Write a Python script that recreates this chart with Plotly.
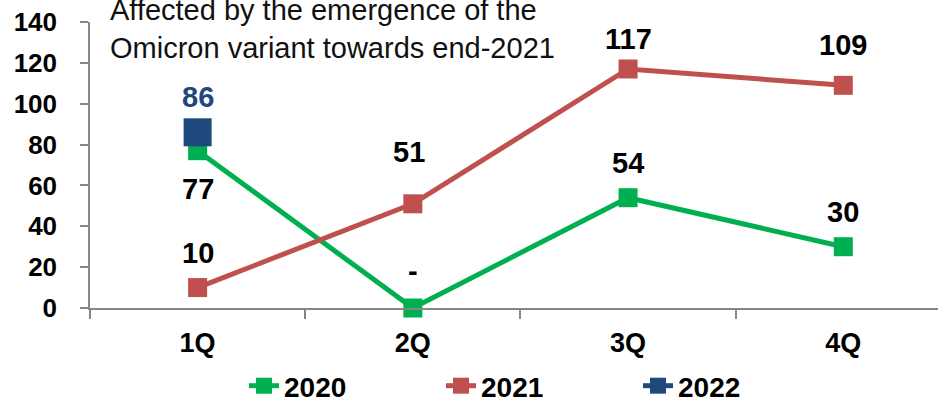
import plotly.graph_objects as go

quarters = ["1Q", "2Q", "3Q", "4Q"]
vals_2020 = [77, 0, 54, 30]
vals_2021 = [10, 51, 117, 109]
vals_2022 = [86]
labels_2020 = ["77", "-", "54", "30"]
labels_2021 = ["10", "51", "117", "109"]
labels_2022 = ["86"]
note = "Affected by the emergence of the<br>Omicron variant towards end-2021"

GREEN = "#00B050"
RED = "#C0504D"
BLUE = "#1F497D"
FONT = "Liberation Sans, Arial, sans-serif"

W, H = 938, 397
ML, MR, MT, MB = 90, 0, 22, 89

fig = go.Figure()
fig.add_trace(go.Scatter(x=quarters, y=vals_2020, name="2020", mode="lines+markers",
                         line=dict(color=GREEN, width=5),
                         marker=dict(symbol="square", size=19, color=GREEN),
                         cliponaxis=False))
fig.add_trace(go.Scatter(x=quarters, y=vals_2021, name="2021", mode="lines+markers",
                         line=dict(color=RED, width=5),
                         marker=dict(symbol="square", size=19, color=RED),
                         cliponaxis=False))
fig.add_trace(go.Scatter(x=quarters[:len(vals_2022)], y=vals_2022, name="2022", mode="lines+markers",
                         line=dict(color=BLUE, width=5),
                         marker=dict(symbol="square", size=28, color=BLUE),
                         cliponaxis=False))

# data labels
shift_2020 = [-38, 37, 35, 35]
shift_2021 = [35, 52, 30, 40]
xsh_2021 = [0, -4, 0, 0]
for q, v, t, s in zip(quarters, vals_2020, labels_2020, shift_2020):
    fig.add_annotation(x=q, y=v, text=t, showarrow=False, yshift=s,
                       font=dict(family=FONT, size=29, color="#000000", weight="bold"))
for q, v, t, s, xs in zip(quarters, vals_2021, labels_2021, shift_2021, xsh_2021):
    fig.add_annotation(x=q, y=v, text=t, showarrow=False, yshift=s, xshift=xs,
                       font=dict(family=FONT, size=29, color="#000000", weight="bold"))
for q, v, t in zip(quarters, vals_2022, labels_2022):
    fig.add_annotation(x=q, y=v, text=t, showarrow=False, yshift=35,
                       font=dict(family=FONT, size=29, color=BLUE, weight="bold"))

pw = W - ML - MR
ph = H - MT - MB
fig.add_annotation(xref="paper", yref="paper", x=(108 - ML) / pw, y=(H - MB - 29) / ph,
                   xanchor="left", yanchor="middle", align="left", showarrow=False,
                   text=note, font=dict(family=FONT, size=29, color="#111111"))

fig.update_layout(
    width=W, height=H,
    margin=dict(l=ML, r=MR, t=MT, b=MB, pad=0, autoexpand=False),
    paper_bgcolor="white", plot_bgcolor="white",
    showlegend=True,
    legend=dict(orientation="h", xanchor="left", x=(244 - ML) / pw,
                yref="container", yanchor="middle", y=(H - 386) / H,
                entrywidth=152, entrywidthmode="pixels",
                font=dict(family=FONT, size=28, color="#000000", weight="bold"),
                bgcolor="rgba(0,0,0,0)"),
    xaxis=dict(type="category", range=[-0.5, 3.44], tickson="boundaries",
               ticks="outside", ticklen=9, tickcolor="#868686", tickwidth=1.5,
               showline=True, linecolor="#868686", linewidth=1.5,
               showgrid=False, zeroline=False, ticklabelstandoff=10,
               automargin=False,
               tickfont=dict(family=FONT, size=27, color="#000000", weight="bold")),
    yaxis=dict(range=[0, 140], dtick=20, ticks="outside", ticklen=8,
               tickcolor="#868686", tickwidth=1.5,
               showline=True, linecolor="#868686", linewidth=1.5,
               showgrid=False, zeroline=False, ticklabelstandoff=18,
               automargin=False,
               tickfont=dict(family=FONT, size=26, color="#000000", weight="bold")),
)

fig.write_html("out.html")
